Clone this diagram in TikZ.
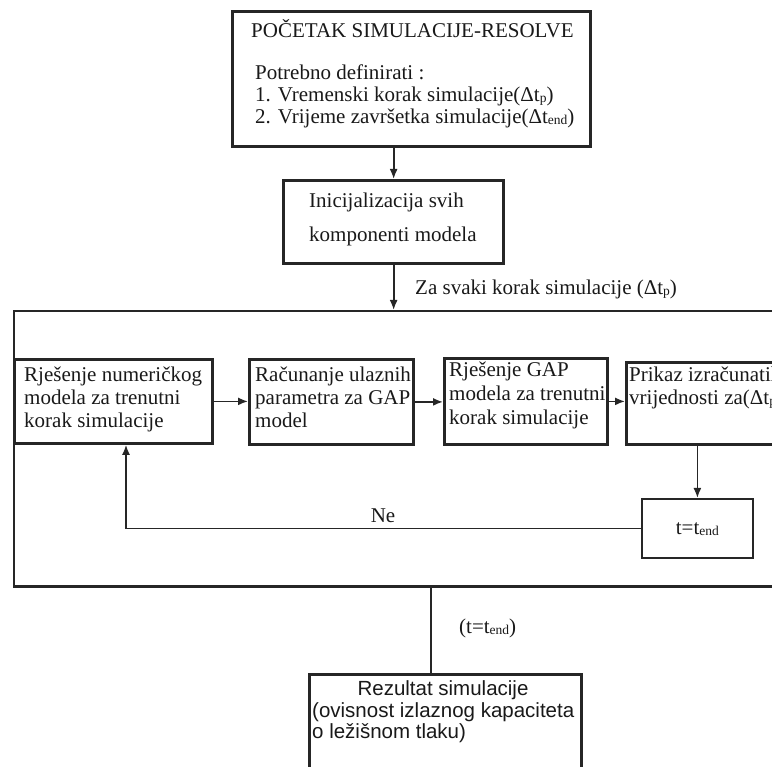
\documentclass[tikz,border=0pt]{standalone}
\usepackage{fontspec}
\setmainfont{Liberation Serif}
\newfontfamily\arialfont{Liberation Sans}
\usetikzlibrary{arrows.meta}
\newcommand\sbt[1]{\raisebox{-1pt}{\fontsize{13.5}{13.5}\selectfont #1}}
\begin{document}
\begin{tikzpicture}[x=1pt,y=-1pt,
  bx/.style={draw=black!85, line width=2.8pt, rectangle, inner sep=0pt, anchor=north west},
  tx/.style={inner sep=0pt, anchor=base west, font=\fontsize{21}{25}\selectfont, text=black!90},
  sx/.style={tx, font=\arialfont\fontsize{20.5}{24}\selectfont},
  ln/.style={draw=black!85, line width=1.7pt},
  arr/.style={ln, -{Latex[length=10pt,width=8pt]}}]
\useasboundingbox (0,0) rectangle (772,767);
\clip (0,0) rectangle (772,767);
% boxes
\node[bx, line width=3.3pt, minimum width=358pt, minimum height=135pt] (start) at (231,10) {};
\node[bx, line width=3.3pt, minimum width=220pt, minimum height=83pt] (init) at (282,179) {};
\node[bx, line width=1.6pt, minimum width=850pt, minimum height=275pt] (loop) at (13,310) {};
\node[bx, minimum width=198pt, minimum height=84pt] (A) at (13,358) {};
\node[bx, minimum width=164pt, minimum height=85pt] (B) at (248,358) {};
\node[bx, minimum width=163pt, minimum height=86pt] (C) at (443,357) {};
\node[bx, minimum width=200pt, minimum height=82pt] (D) at (625,361) {};
\node[bx, line width=1.8pt, minimum width=111pt, minimum height=59pt] (E) at (641,498) {};
\node[bx, minimum width=272pt, minimum height=120pt] (F) at (308,673) {};
\draw[line width=2.6pt, black!85] (loop.south west) -- (loop.south east);
% connectors
\draw[arr] (start.south -| init.north) -- (init.north);
\draw[arr] (init.south) -- (init.south |- loop.north);
\draw[arr] (A.east) -- (A.east -| B.west);
\draw[arr] (B.east) -- (B.east -| C.west);
\draw[arr] (C.east) -- (C.east -| D.west);
\draw[arr] (D.south -| E.north) -- (E.north);
\coordinate (fb) at (126,0);
\draw[arr] (E.west) -- (E.west -| fb) -- (A.south -| fb);
\coordinate (out) at (431,0);
\draw[ln] (loop.south -| out) -- (F.north -| out);
% texts
\node[tx] (t0) at (251,38) {POČETAK SIMULACIJE-RESOLVE};
\node[tx] (t1) at (255,80) {Potrebno definirati :};
\node[tx] (t2) at (255,102) {1. Vremenski korak simulacije(Δt\sbt{p})};
\node[tx] (t3) at (255,124) {2. Vrijeme završetka simulacije(Δt\sbt{end})};
\node[tx] (i1) at (309,208) {Inicijalizacija svih};
\node[tx] (i2) at (309,242) {komponenti modela};
\node[tx] (lz) at (415,295) {Za svaki korak simulacije (Δt\sbt{p})};
\node[tx] (a1) at (24,382) {Rješenje numeričkog};
\node[tx] (a2) at (24,405) {modela za trenutni};
\node[tx] (a3) at (24,428) {korak simulacije};
\node[tx] (b1) at (255,382) {Računanje ulaznih};
\node[tx] (b2) at (255,405) {parametra za GAP};
\node[tx] (b3) at (255,428) {model};
\node[tx] (c1) at (449,377) {Rješenje GAP};
\node[tx] (c2) at (449,401) {modela za trenutni};
\node[tx] (c3) at (449,425) {korak simulacije};
\node[tx] (d1) at (629,382) {Prikaz izračunatih};
\node[tx] (d2) at (629,405) {vrijednosti za(Δt\sbt{p})};
\node[tx, anchor=base] (e1) at (E.center |- 0,535) {t=t\sbt{end}};
\node[tx, anchor=base] (ne) at (383,522) {Ne};
\node[tx] (tc) at (459,633) {(t=t\sbt{end})};
\node[sx, anchor=base] (f1) at (443,695) {Rezultat simulacije};
\node[sx] (f2) at (312,717) {(ovisnost izlaznog kapaciteta};
\node[sx] (f3) at (312,738) {o ležišnom tlaku)};
\end{tikzpicture}
\end{document}
